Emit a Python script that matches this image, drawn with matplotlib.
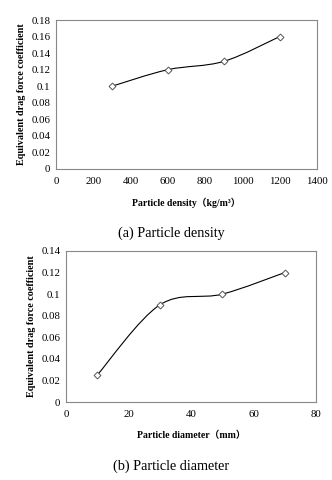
import matplotlib
matplotlib.use("Agg")
import matplotlib.pyplot as plt
from matplotlib.path import Path
from matplotlib.patches import PathPatch
import numpy as np

plt.rcParams['font.family'] = ['Liberation Serif', 'Noto Sans CJK SC', 'DejaVu Serif']

density = [300, 600, 900, 1200]
drag_density = [0.10, 0.12, 0.13, 0.16]
diameter = [10, 30, 50, 70]
drag_diameter = [0.025, 0.09, 0.10, 0.12]

ylabel = "Equivalent drag force coefficient"
xlabel_a = "Particle density\uff08kg/m\u00b3\uff09"
xlabel_b = "Particle diameter\uff08mm\uff09"
cap_a = "(a) Particle density"
cap_b = "(b) Particle diameter"


def smooth_path(x, y, t=1/6):
    x = np.asarray(x, float); y = np.asarray(y, float)
    n = len(x)
    verts = [(x[0], y[0])]
    codes = [Path.MOVETO]
    for i in range(n - 1):
        p0 = np.array([x[max(i-1, 0)], y[max(i-1, 0)]])
        p1 = np.array([x[i], y[i]])
        p2 = np.array([x[i+1], y[i+1]])
        p3 = np.array([x[min(i+2, n-1)], y[min(i+2, n-1)]])
        c1 = p1 + (p2 - p0) * t
        c2 = p2 - (p3 - p1) * t
        verts += [tuple(c1), tuple(c2), tuple(p2)]
        codes += [Path.CURVE4] * 3
    return Path(verts, codes)


fig = plt.figure(figsize=(3.32, 4.8), dpi=100)
W, H = 332, 480

def add_ax(l, t, r, b):
    return fig.add_axes([l / W, 1 - b / H, (r - l) / W, (b - t) / H])

def style(ax, xlim, xticks, ylim, yticks, yfmt):
    ax.set_xlim(*xlim); ax.set_ylim(*ylim)
    ax.set_xticks(xticks); ax.set_yticks(yticks)
    ax.set_xticklabels([str(v) for v in xticks], fontsize=7.8)
    ax.set_yticklabels([yfmt(v) for v in yticks], fontsize=7.8)
    ax.tick_params(length=0, pad=4)
    ax.tick_params(axis='x', pad=6)
    for s in ax.spines.values():
        s.set_color('#888888'); s.set_linewidth(0.8)

def fmt(v):
    if abs(v) < 1e-12:
        return "0"
    s = f"{v:.2f}".rstrip('0').rstrip('.')
    return s

ax1 = add_ax(56, 20, 317, 169)
style(ax1, (0, 1400), list(range(0, 1401, 200)), (0, 0.18),
      [round(v, 2) for v in np.arange(0, 0.181, 0.02)], fmt)
ax1.add_patch(PathPatch(smooth_path(density, drag_density), fill=False, color='black', lw=0.8))
ax1.plot(density, drag_density, linestyle='none', marker='D', markersize=3.5,
         markerfacecolor='white', markeredgecolor='#555555', markeredgewidth=0.7)
ax1.set_ylabel(ylabel, fontsize=7.3, fontweight='bold', labelpad=4)
ax1.set_xlabel(xlabel_a, fontsize=7, fontweight='bold', labelpad=8)
fig.text(171 / W, 1 - 233 / H, cap_a, ha='center', va='center', fontsize=10.2)

ax2 = add_ax(66, 251, 316, 402)
style(ax2, (0, 80), list(range(0, 81, 20)), (0, 0.14),
      [round(v, 2) for v in np.arange(0, 0.141, 0.02)], fmt)
ax2.add_patch(PathPatch(smooth_path(diameter, drag_diameter), fill=False, color='black', lw=0.8))
ax2.plot(diameter, drag_diameter, linestyle='none', marker='D', markersize=3.5,
         markerfacecolor='white', markeredgecolor='#555555', markeredgewidth=0.7)
ax2.set_ylabel(ylabel, fontsize=7.3, fontweight='bold', labelpad=4)
ax2.set_xlabel(xlabel_b, fontsize=7, fontweight='bold', labelpad=8)
fig.text(171 / W, 1 - 466 / H, cap_b, ha='center', va='center', fontsize=10.2)

fig.savefig("out.png", dpi=100)
